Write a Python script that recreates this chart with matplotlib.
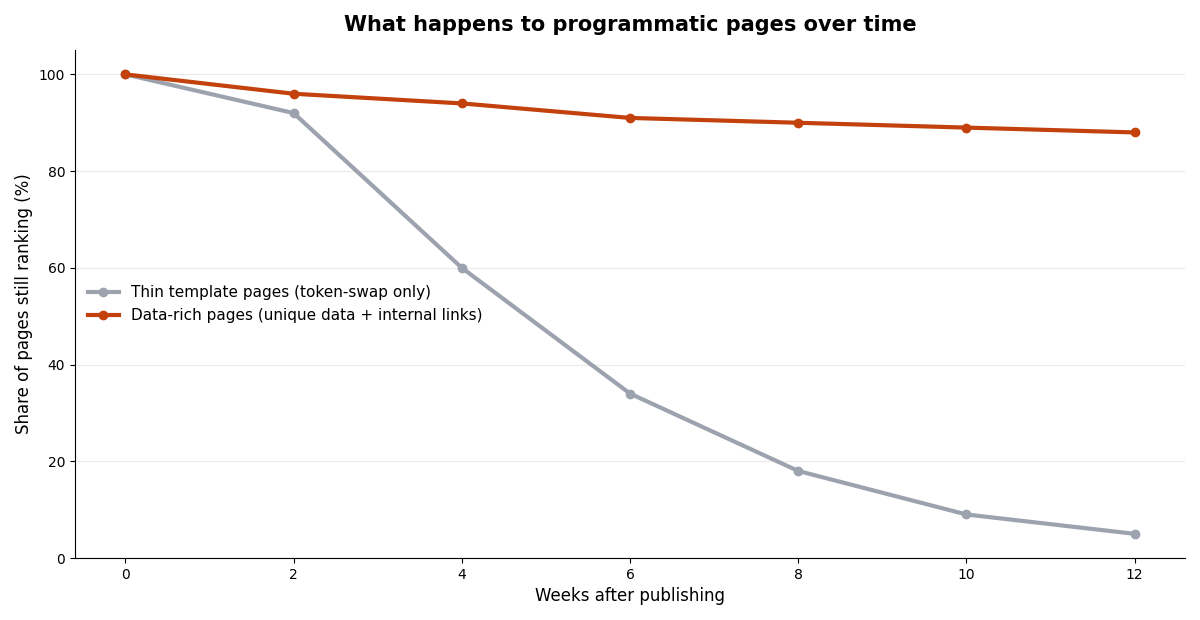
import matplotlib
matplotlib.use("Agg")
import matplotlib.pyplot as plt

weeks = [0, 2, 4, 6, 8, 10, 12]
thin = [100, 92, 60, 34, 18, 9, 5]
rich = [100, 96, 94, 91, 90, 89, 88]
labels = ["Thin template pages (token-swap only)",
          "Data-rich pages (unique data + internal links)"]

fig, ax = plt.subplots(figsize=(12, 6.2), dpi=100)
ax.plot(weeks, thin, color="#9CA3AF", lw=3, marker="o", ms=6, label=labels[0])
ax.plot(weeks, rich, color="#C2410C", lw=3, marker="o", ms=6, label=labels[1])
ax.set_ylim(0, 105)
ax.set_xticks(weeks)
ax.set_title("What happens to programmatic pages over time", fontsize=15, fontweight="bold", pad=13.5)
ax.set_xlabel("Weeks after publishing", fontsize=12)
ax.set_ylabel("Share of pages still ranking (%)", fontsize=12)
ax.grid(axis="y", color="#e5e5e5", lw=0.8, alpha=0.8)
ax.set_axisbelow(True)
ax.spines["top"].set_visible(False)
ax.spines["right"].set_visible(False)
ax.legend(loc="center left", frameon=False, fontsize=11, borderaxespad=0.45)
fig.subplots_adjust(left=0.0625, right=0.9875, top=0.919, bottom=0.1)
fig.savefig("out.png")
